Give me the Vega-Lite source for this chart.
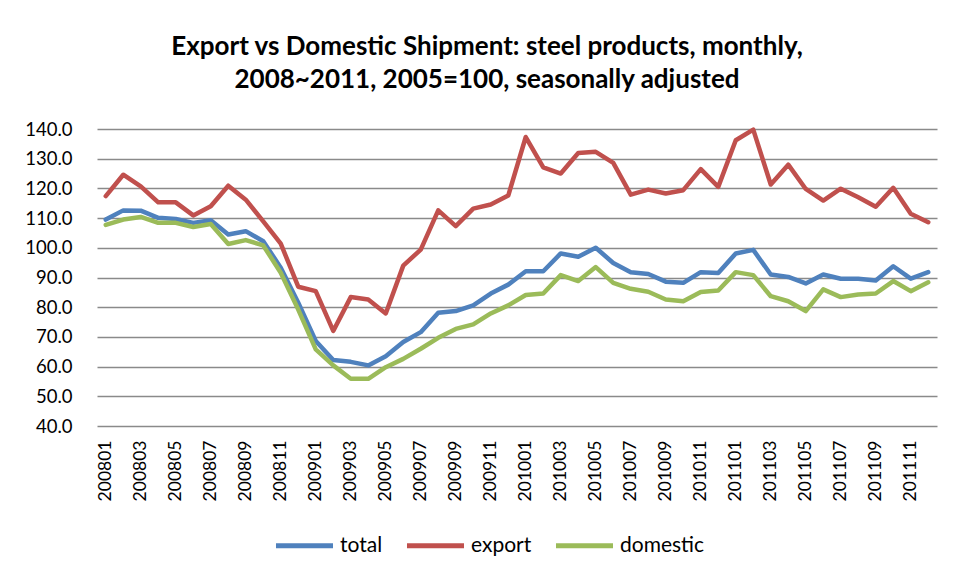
{
  "$schema": "https://vega.github.io/schema/vega-lite/v6.json",
  "width": 840,
  "height": 297,
  "autosize": {"type": "none"},
  "padding": {"left": 97, "top": 129, "right": 18, "bottom": 154},
  "background": "white",
  "title": {
    "text": ["Export vs Domestic Shipment: steel products, monthly,", "2008~2011, 2005=100, seasonally adjusted"],
    "font": "Lato",
    "fontSize": 26,
    "fontWeight": "bold",
    "color": "black",
    "anchor": "middle",
    "dx": -30,
    "offset": 27,
    "lineHeight": 33
  },
  "config": {"view": {"stroke": null}, "font": "Lato"},
  "data": {
    "values": [
      {"m": "200801", "total": 109.5, "export": 117.4, "domestic": 107.7},
      {"m": "200802", "total": 112.6, "export": 124.6, "domestic": 109.5},
      {"m": "200803", "total": 112.5, "export": 120.7, "domestic": 110.4},
      {"m": "200804", "total": 110.1, "export": 115.3, "domestic": 108.4},
      {"m": "200805", "total": 109.7, "export": 115.3, "domestic": 108.4},
      {"m": "200806", "total": 108.4, "export": 110.9, "domestic": 107.0},
      {"m": "200807", "total": 109.3, "export": 114.0, "domestic": 108.0},
      {"m": "200808", "total": 104.5, "export": 120.9, "domestic": 101.3},
      {"m": "200809", "total": 105.6, "export": 116.2, "domestic": 102.6},
      {"m": "200810", "total": 102.2, "export": 108.9, "domestic": 100.8},
      {"m": "200811", "total": 93.3, "export": 101.4, "domestic": 91.6},
      {"m": "200812", "total": 81.5, "export": 86.9, "domestic": 79.2},
      {"m": "200901", "total": 68.6, "export": 85.4, "domestic": 65.8},
      {"m": "200902", "total": 62.2, "export": 72.0, "domestic": 60.4},
      {"m": "200903", "total": 61.6, "export": 83.4, "domestic": 55.9},
      {"m": "200904", "total": 60.4, "export": 82.6, "domestic": 55.9},
      {"m": "200905", "total": 63.5, "export": 77.9, "domestic": 59.8},
      {"m": "200906", "total": 68.3, "export": 94.0, "domestic": 62.6},
      {"m": "200907", "total": 71.6, "export": 99.4, "domestic": 66.0},
      {"m": "200908", "total": 78.1, "export": 112.6, "domestic": 69.7},
      {"m": "200909", "total": 78.7, "export": 107.3, "domestic": 72.7},
      {"m": "200910", "total": 80.6, "export": 113.2, "domestic": 74.2},
      {"m": "200911", "total": 84.6, "export": 114.6, "domestic": 77.9},
      {"m": "200912", "total": 87.6, "export": 117.6, "domestic": 80.6},
      {"m": "201001", "total": 92.1, "export": 137.3, "domestic": 84.1},
      {"m": "201002", "total": 92.1, "export": 127.1, "domestic": 84.6},
      {"m": "201003", "total": 98.1, "export": 125.0, "domestic": 90.8},
      {"m": "201004", "total": 97.0, "export": 131.9, "domestic": 88.8},
      {"m": "201005", "total": 100.0, "export": 132.3, "domestic": 93.5},
      {"m": "201006", "total": 94.9, "export": 128.6, "domestic": 88.2},
      {"m": "201007", "total": 91.8, "export": 117.9, "domestic": 86.2},
      {"m": "201008", "total": 91.2, "export": 119.6, "domestic": 85.2},
      {"m": "201009", "total": 88.6, "export": 118.3, "domestic": 82.6},
      {"m": "201010", "total": 88.2, "export": 119.4, "domestic": 82.0},
      {"m": "201011", "total": 91.8, "export": 126.5, "domestic": 85.1},
      {"m": "201012", "total": 91.5, "export": 120.5, "domestic": 85.6},
      {"m": "201101", "total": 98.1, "export": 136.2, "domestic": 91.8},
      {"m": "201102", "total": 99.3, "export": 139.8, "domestic": 90.8},
      {"m": "201103", "total": 91.0, "export": 121.3, "domestic": 83.7},
      {"m": "201104", "total": 90.2, "export": 128.0, "domestic": 82.0},
      {"m": "201105", "total": 88.0, "export": 119.8, "domestic": 78.7},
      {"m": "201106", "total": 91.0, "export": 115.9, "domestic": 86.0},
      {"m": "201107", "total": 89.6, "export": 119.9, "domestic": 83.4},
      {"m": "201108", "total": 89.6, "export": 117.0, "domestic": 84.3},
      {"m": "201109", "total": 89.0, "export": 113.8, "domestic": 84.6},
      {"m": "201110", "total": 93.8, "export": 120.2, "domestic": 88.8},
      {"m": "201111", "total": 89.6, "export": 111.5, "domestic": 85.4},
      {"m": "201112", "total": 91.8, "export": 108.6, "domestic": 88.4}
    ]
  },
  "transform": [{"fold": ["total", "export", "domestic"], "as": ["key", "value"]}],
  "mark": {"type": "line", "strokeWidth": 4.5, "strokeJoin": "round", "strokeCap": "round"},
  "encoding": {
    "x": {
      "field": "m",
      "type": "ordinal",
      "sort": null,
      "scale": {"type": "point", "padding": 0.5},
      "axis": {
        "values": ["200801","200803","200805","200807","200809","200811","200901","200903","200905","200907","200909","200911","201001","201003","201005","201007","201009","201011","201101","201103","201105","201107","201109","201111"],
        "labelAngle": -90,
        "labelFontSize": 17.5,
        "labelPadding": 14,
        "labelColor": "black",
        "ticks": false,
        "domain": false,
        "grid": false,
        "title": null
      }
    },
    "y": {
      "field": "value",
      "type": "quantitative",
      "scale": {"domain": [40, 140], "nice": false, "zero": false},
      "axis": {
        "values": [40, 50, 60, 70, 80, 90, 100, 110, 120, 130, 140],
        "format": ".1f",
        "grid": true,
        "gridColor": "#8a8a8a",
        "gridWidth": 1.5,
        "domain": false,
        "ticks": false,
        "labelPadding": 25,
        "labelFontSize": 18.5,
        "labelColor": "black",
        "title": null
      }
    },
    "color": {
      "field": "key",
      "type": "nominal",
      "sort": ["total", "export", "domestic"],
      "scale": {"domain": ["total", "export", "domestic"], "range": ["#4F81BD", "#C0504D", "#9BBB59"]},
      "legend": {
        "orient": "none",
        "legendX": 176,
        "legendY": 385,
        "direction": "horizontal",
        "title": null,
        "padding": 0,
        "symbolType": "stroke",
        "symbolStrokeWidth": 5,
        "symbolSize": 3250,
        "labelFontSize": 21,
        "labelColor": "black",
        "labelOffset": 4,
        "columnPadding": 13
      }
    }
  }
}
